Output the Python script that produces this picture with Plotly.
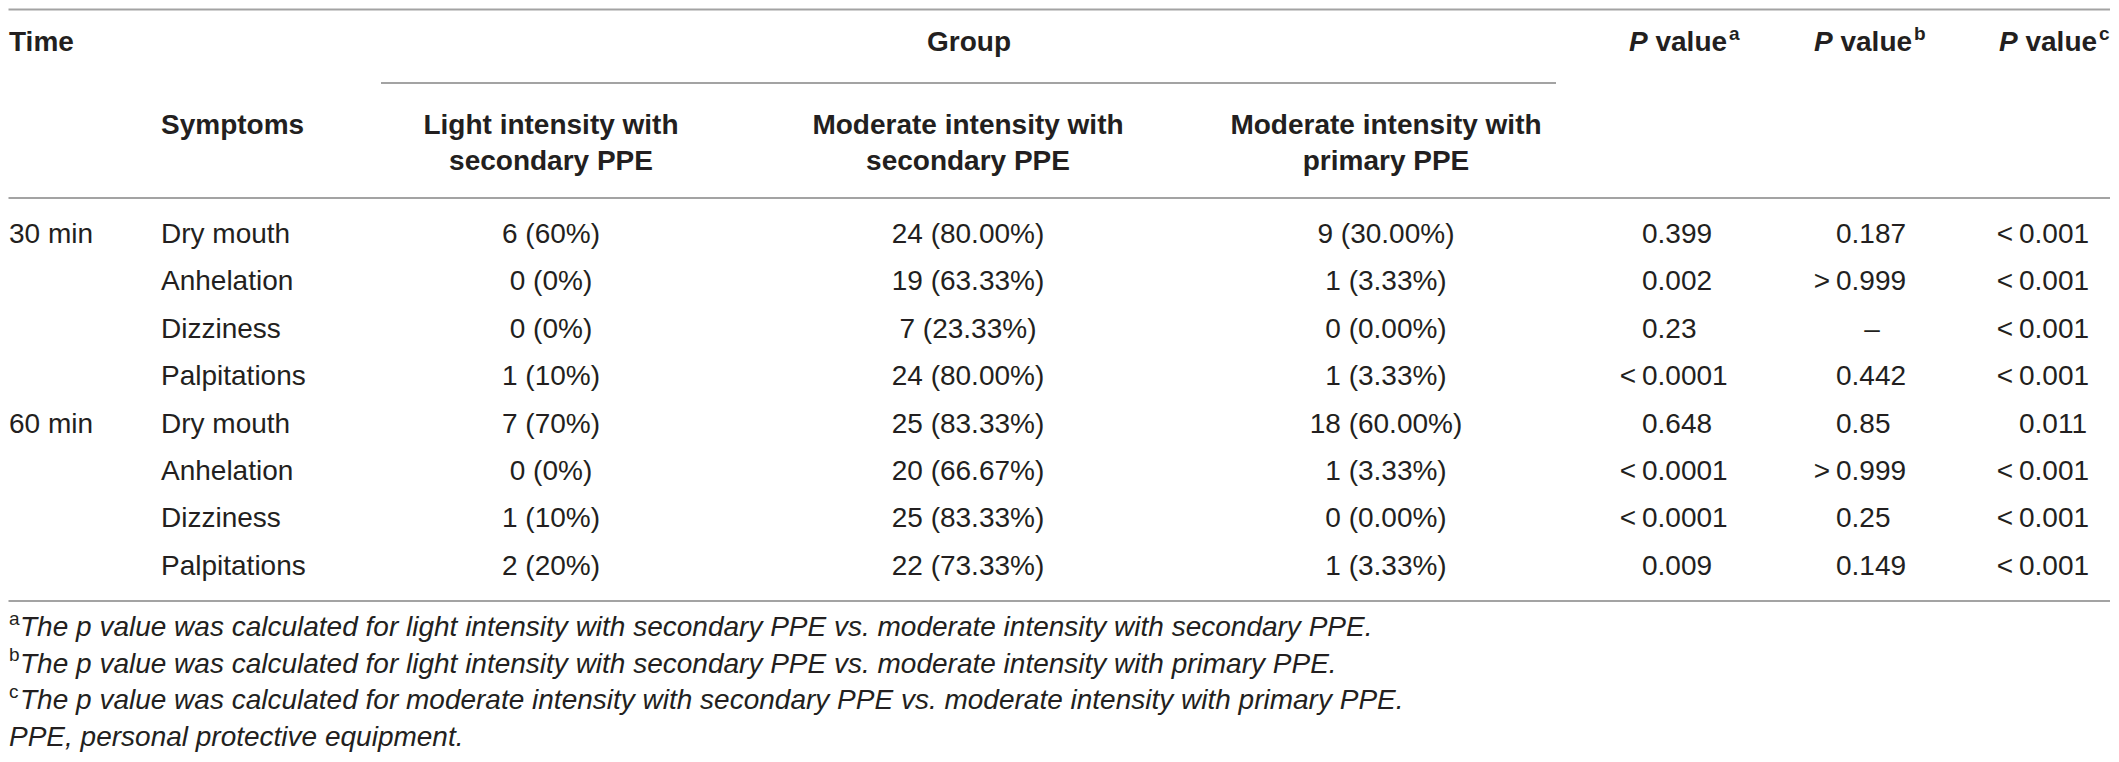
import plotly.graph_objects as go

# ---------------- data ----------------
time_points = ["30 min", "60 min"]
symptoms = ["Dry mouth", "Anhelation", "Dizziness", "Palpitations"]

group_title = "Group"
group_headers = [
    "Light intensity with<br>secondary PPE",
    "Moderate intensity with<br>secondary PPE",
    "Moderate intensity with<br>primary PPE",
]
p_header = "P value"
p_marks = ["a", "b", "c"]

light_secondary = ["6 (60%)", "0 (0%)", "0 (0%)", "1 (10%)",
                   "7 (70%)", "0 (0%)", "1 (10%)", "2 (20%)"]
moderate_secondary = ["24 (80.00%)", "19 (63.33%)", "7 (23.33%)", "24 (80.00%)",
                      "25 (83.33%)", "20 (66.67%)", "25 (83.33%)", "22 (73.33%)"]
moderate_primary = ["9 (30.00%)", "1 (3.33%)", "0 (0.00%)", "1 (3.33%)",
                    "18 (60.00%)", "1 (3.33%)", "0 (0.00%)", "1 (3.33%)"]
p_value_a = ["0.399", "0.002", "0.23", "<0.0001", "0.648", "<0.0001", "<0.0001", "0.009"]
p_value_b = ["0.187", ">0.999", "–", "0.442", "0.85", ">0.999", "0.25", "0.149"]
p_value_c = ["<0.001", "<0.001", "<0.001", "<0.001", "0.011", "<0.001", "<0.001", "<0.001"]

footnote_marks = ["a", "b", "c"]
footnote_texts = [
    "The p value was calculated for light intensity with secondary PPE vs. moderate intensity with secondary PPE.",
    "The p value was calculated for light intensity with secondary PPE vs. moderate intensity with primary PPE.",
    "The p value was calculated for moderate intensity with secondary PPE vs. moderate intensity with primary PPE.",
]
abbreviation_note = "PPE, personal protective equipment."

# ---------------- layout constants ----------------
# The page body has an 8px margin; the figure is sized so the whole page
# fits the 2119x762 window and axis ranges map straight to window pixels.
PAGE_W, PAGE_H = 2119, 762
BODY_MARGIN = 8
W, H = PAGE_W - 2 * BODY_MARGIN, PAGE_H - 2 * BODY_MARGIN
FONT = "Liberation Sans, Arial, Helvetica, sans-serif"
FS = 28
FS_SUP = 19
TXT = "#231f20"
RULE = "#a3a3a3"

x_left = 9
x_time = x_left
x_symptom = 161
x_group_title = 969
x_groups = [551, 968, 1386]
x_p_head_left = [1629, 1814, 1999]
p_head_width = 100
x_p_dec = [1642, 1836, 2019]     # left edge of the leading "0"
x_dash = [1664, 1872, 2040]
x_foot_sup = x_left
x_foot = 20

y_head1 = 44
sup_rise = 9
y_head2 = 127
y_head2_multi = 145
row_y0 = 236
row_step = 47.4
foot_y0 = 629
foot_step = 36.5

rule_top = 9.5
rule_group = 83
rule_head = 198
rule_bottom = 601
rule_x0, rule_x1 = 8.5, 2110
group_rule_x0, group_rule_x1 = 381, 1556

n_rows = len(time_points) * len(symptoms)
row_y = [row_y0 + i * row_step for i in range(n_rows)]


def esc(s):
    return s.replace("<", "&lt;").replace(">", "&gt;")


fig = go.Figure()


def add_text(xs, ys, texts, pos, size=FS, color=TXT):
    fig.add_trace(go.Scatter(
        x=xs, y=ys, text=texts, mode="text", textposition=pos,
        textfont=dict(family=FONT, size=size, color=color),
        hoverinfo="skip", showlegend=False, cliponaxis=False,
    ))


# headers
add_text([x_time], [y_head1], ["<b>Time</b>"], "middle right")
add_text([x_group_title], [y_head1], ["<b>" + group_title + "</b>"], "middle center")
add_text([x_symptom], [y_head2], ["<b>Symptoms</b>"], "middle right")
add_text(x_groups, [y_head2_multi] * 3, ["<b>" + h + "</b>" for h in group_headers], "middle center")
p_italic, p_rest = p_header.split(" ", 1)
add_text(x_p_head_left, [y_head1] * 3,
         ["<b><i>" + p_italic + "</i> " + p_rest + "</b>" for _ in p_marks], "middle right")
add_text([x + p_head_width for x in x_p_head_left], [y_head1 - sup_rise] * 3,
         ["<b>" + m + "</b>" for m in p_marks], "middle right", size=FS_SUP)

# time and symptom columns
time_y = [row_y[i * len(symptoms)] for i in range(len(time_points))]
add_text([x_time] * len(time_points), time_y, time_points, "middle right")
sym_col = [s for _ in time_points for s in symptoms]
add_text([x_symptom] * n_rows, row_y, sym_col, "middle right")

# group columns (centered)
for xc, col in zip(x_groups, [light_secondary, moderate_secondary, moderate_primary]):
    add_text([xc] * n_rows, row_y, col, "middle center")

# p value columns (aligned on the leading digit)
for xd, xdash, col in zip(x_p_dec, x_dash, [p_value_a, p_value_b, p_value_c]):
    pre_x, pre_y, pre_t = [], [], []
    num_x, num_y, num_t = [], [], []
    dash_x, dash_y, dash_t = [], [], []
    for y, v in zip(row_y, col):
        if v in ("–", "-"):
            dash_x.append(xdash); dash_y.append(y); dash_t.append(v)
            continue
        if v[0] in "<>":
            pre_x.append(xd - 6); pre_y.append(y); pre_t.append(esc(v[0]))
            v = v[1:]
        num_x.append(xd); num_y.append(y); num_t.append(v)
    add_text(num_x, num_y, num_t, "middle right")
    if pre_t:
        add_text(pre_x, pre_y, pre_t, "middle left")
    if dash_t:
        add_text(dash_x, dash_y, dash_t, "middle center")

# footnotes
fy = [foot_y0 + i * foot_step for i in range(len(footnote_texts) + 1)]
add_text([x_foot_sup] * len(footnote_marks), [y - sup_rise for y in fy[:len(footnote_marks)]],
         footnote_marks, "middle right", size=FS_SUP)
add_text([x_foot] * len(footnote_texts), fy[:len(footnote_texts)],
         ["<i>" + t + "</i>" for t in footnote_texts], "middle right")
add_text([x_left], [fy[-1]], ["<i>" + abbreviation_note + "</i>"], "middle right")

# horizontal rules
rules = [
    (rule_x0, rule_x1, rule_top),
    (group_rule_x0, group_rule_x1, rule_group),
    (rule_x0, rule_x1, rule_head),
    (rule_x0, rule_x1, rule_bottom),
]
for x0, x1, y in rules:
    fig.add_shape(type="line", xref="x", yref="y", x0=x0, x1=x1, y0=y, y1=y,
                  line=dict(color=RULE, width=2))

fig.update_layout(
    width=W, height=H,
    margin=dict(l=0, r=0, t=0, b=0),
    paper_bgcolor="white", plot_bgcolor="white",
    xaxis=dict(range=[BODY_MARGIN, BODY_MARGIN + W], visible=False, fixedrange=True),
    yaxis=dict(range=[BODY_MARGIN + H, BODY_MARGIN], visible=False, fixedrange=True),
    showlegend=False,
)

fig.write_html("out.html")
